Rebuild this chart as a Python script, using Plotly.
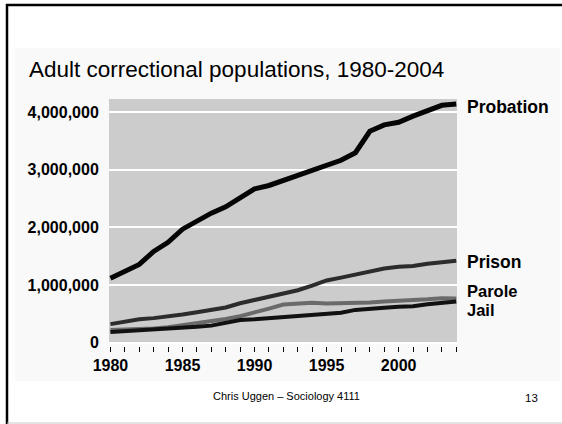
import plotly.graph_objects as go

years = list(range(1980, 2005))
probation = [1118000, 1226000, 1357000, 1583000, 1741000, 1969000, 2115000, 2247000, 2356000, 2522000,
             2670000, 2728000, 2812000, 2903000, 2981000, 3078000, 3165000, 3297000, 3670000, 3780000,
             3826000, 3932000, 4024000, 4120000, 4144000]
prison = [320000, 360000, 403000, 424000, 448000, 488000, 526000, 563000, 608000, 683000,
          743000, 793000, 851000, 909000, 990000, 1079000, 1128000, 1177000, 1224000, 1287000,
          1316000, 1330000, 1368000, 1390000, 1422000]
parole = [220000, 226000, 225000, 246000, 267000, 300000, 326000, 362000, 408000, 457000,
          531000, 590000, 659000, 676000, 690000, 679000, 680000, 695000, 696000, 714000,
          724000, 732000, 751000, 770000, 765000]
jail = [182000, 195000, 208000, 222000, 233000, 255000, 273000, 294000, 342000, 393000,
        403000, 424000, 442000, 456000, 480000, 507000, 518000, 567000, 592000, 606000,
        621000, 631000, 665000, 691000, 714000]

series_names = ["Parole", "Jail", "Prison", "Probation"]
series_values = [parole, jail, prison, probation]
series_colors = ["#6a6a6a", "#111111", "#2c2c2c", "#050505"]
series_widths = [4, 4, 4, 5]
label_shift = {"Probation": -3, "Prison": -1, "Parole": 8, "Jail": -9}
label_size = {"Probation": 17.5, "Prison": 17.5, "Parole": 16.5, "Jail": 16.5}

ytick_vals = [0, 1000000, 2000000, 3000000, 4000000]
ytick_text = ["0", "1,000,000", "2,000,000", "3,000,000", "4,000,000"]
xtick_text = [str(y) if y % 5 == 0 and y <= 2000 else "" for y in years]

W, H = 562, 424
L, R, T, B = 109, 105, 99, 78
PW, PH = W - L - R, H - T - B


def px(x):
    return (x - L) / PW


def py(y):
    return (H - B - y) / PH


FONT = "Liberation Sans, Arial, sans-serif"
BOLD = "Liberation Sans, Arial, sans-serif"

fig = go.Figure()
for name, vals, col, w in zip(series_names, series_values, series_colors, series_widths):
    fig.add_trace(go.Scatter(x=years, y=vals, mode="lines", name=name,
                             line=dict(color=col, width=w), hoverinfo="skip"))

shapes = [
    # chart image background
    dict(type="rect", xref="paper", yref="paper", x0=px(15), x1=px(560), y0=py(381), y1=py(48),
         fillcolor="#f9f9f9", line=dict(width=0), layer="below"),
    # gray plot background
    dict(type="rect", xref="x", yref="y", x0=1979.9, x1=2004.05, y0=0, y1=4230000,
         fillcolor="#cccccc", line=dict(width=0), layer="below"),
    # slide frame
    dict(type="line", xref="paper", yref="paper", x0=px(6), x1=px(580), y0=py(5), y1=py(5),
         line=dict(color="#000000", width=2.5)),
    dict(type="line", xref="paper", yref="paper", x0=px(7), x1=px(7), y0=py(4), y1=py(430),
         line=dict(color="#000000", width=2.5)),
    dict(type="line", xref="paper", yref="paper", x0=px(7), x1=px(580), y0=py(423), y1=py(423),
         line=dict(color="#c8c8c8", width=1)),
]

annotations = [
    dict(text="Adult correctional populations, 1980-2004", xref="paper", yref="paper",
         x=px(27), y=py(70), xanchor="left", yanchor="middle", showarrow=False,
         font=dict(family=FONT, size=22.5, color="#000000")),
    dict(text="Chris Uggen – Sociology 4111", xref="paper", yref="paper",
         x=px(286), y=py(396), xanchor="center", yanchor="middle", showarrow=False,
         font=dict(family=FONT, size=11, color="#000000")),
    dict(text="13", xref="paper", yref="paper",
         x=px(531), y=py(398), xanchor="center", yanchor="middle", showarrow=False,
         font=dict(family=FONT, size=11.5, color="#000000")),
]
for name, vals in zip(series_names, series_values):
    annotations.append(dict(text="<b>%s</b>" % name, xref="paper", yref="y",
                            x=px(465), y=vals[-1], yshift=label_shift[name],
                            xanchor="left", yanchor="middle", showarrow=False,
                            font=dict(family=BOLD, size=label_size[name], color="#000000")))

fig.update_layout(
    width=W, height=H,
    margin=dict(l=L, r=R, t=T, b=B, pad=0),
    paper_bgcolor="#ffffff",
    plot_bgcolor="#f9f9f9",
    showlegend=False,
    shapes=shapes,
    annotations=annotations,
    xaxis=dict(range=[1979.9, 2004.05], tickvals=years, ticktext=xtick_text,
               ticks="outside", ticklen=5, tickwidth=1, tickcolor="#000000",
               showgrid=False, zeroline=False, showline=False, fixedrange=True,
               tickfont=dict(family=BOLD, size=16, color="#000000", weight="bold")),
    yaxis=dict(range=[-60000, 4230000], tickvals=ytick_vals, ticktext=ytick_text,
               ticks="outside", ticklen=6, tickcolor="rgba(0,0,0,0)",
               showgrid=True, gridcolor="#ffffff", gridwidth=2,
               zeroline=False, showline=False, fixedrange=True,
               tickfont=dict(family=BOLD, size=16, color="#000000", weight="bold")),
)

fig.write_html("out.html", config={"displayModeBar": False},
               post_script="document.body.style.margin='0';document.body.style.overflow='hidden';"
                           "document.documentElement.style.overflow='hidden';")
